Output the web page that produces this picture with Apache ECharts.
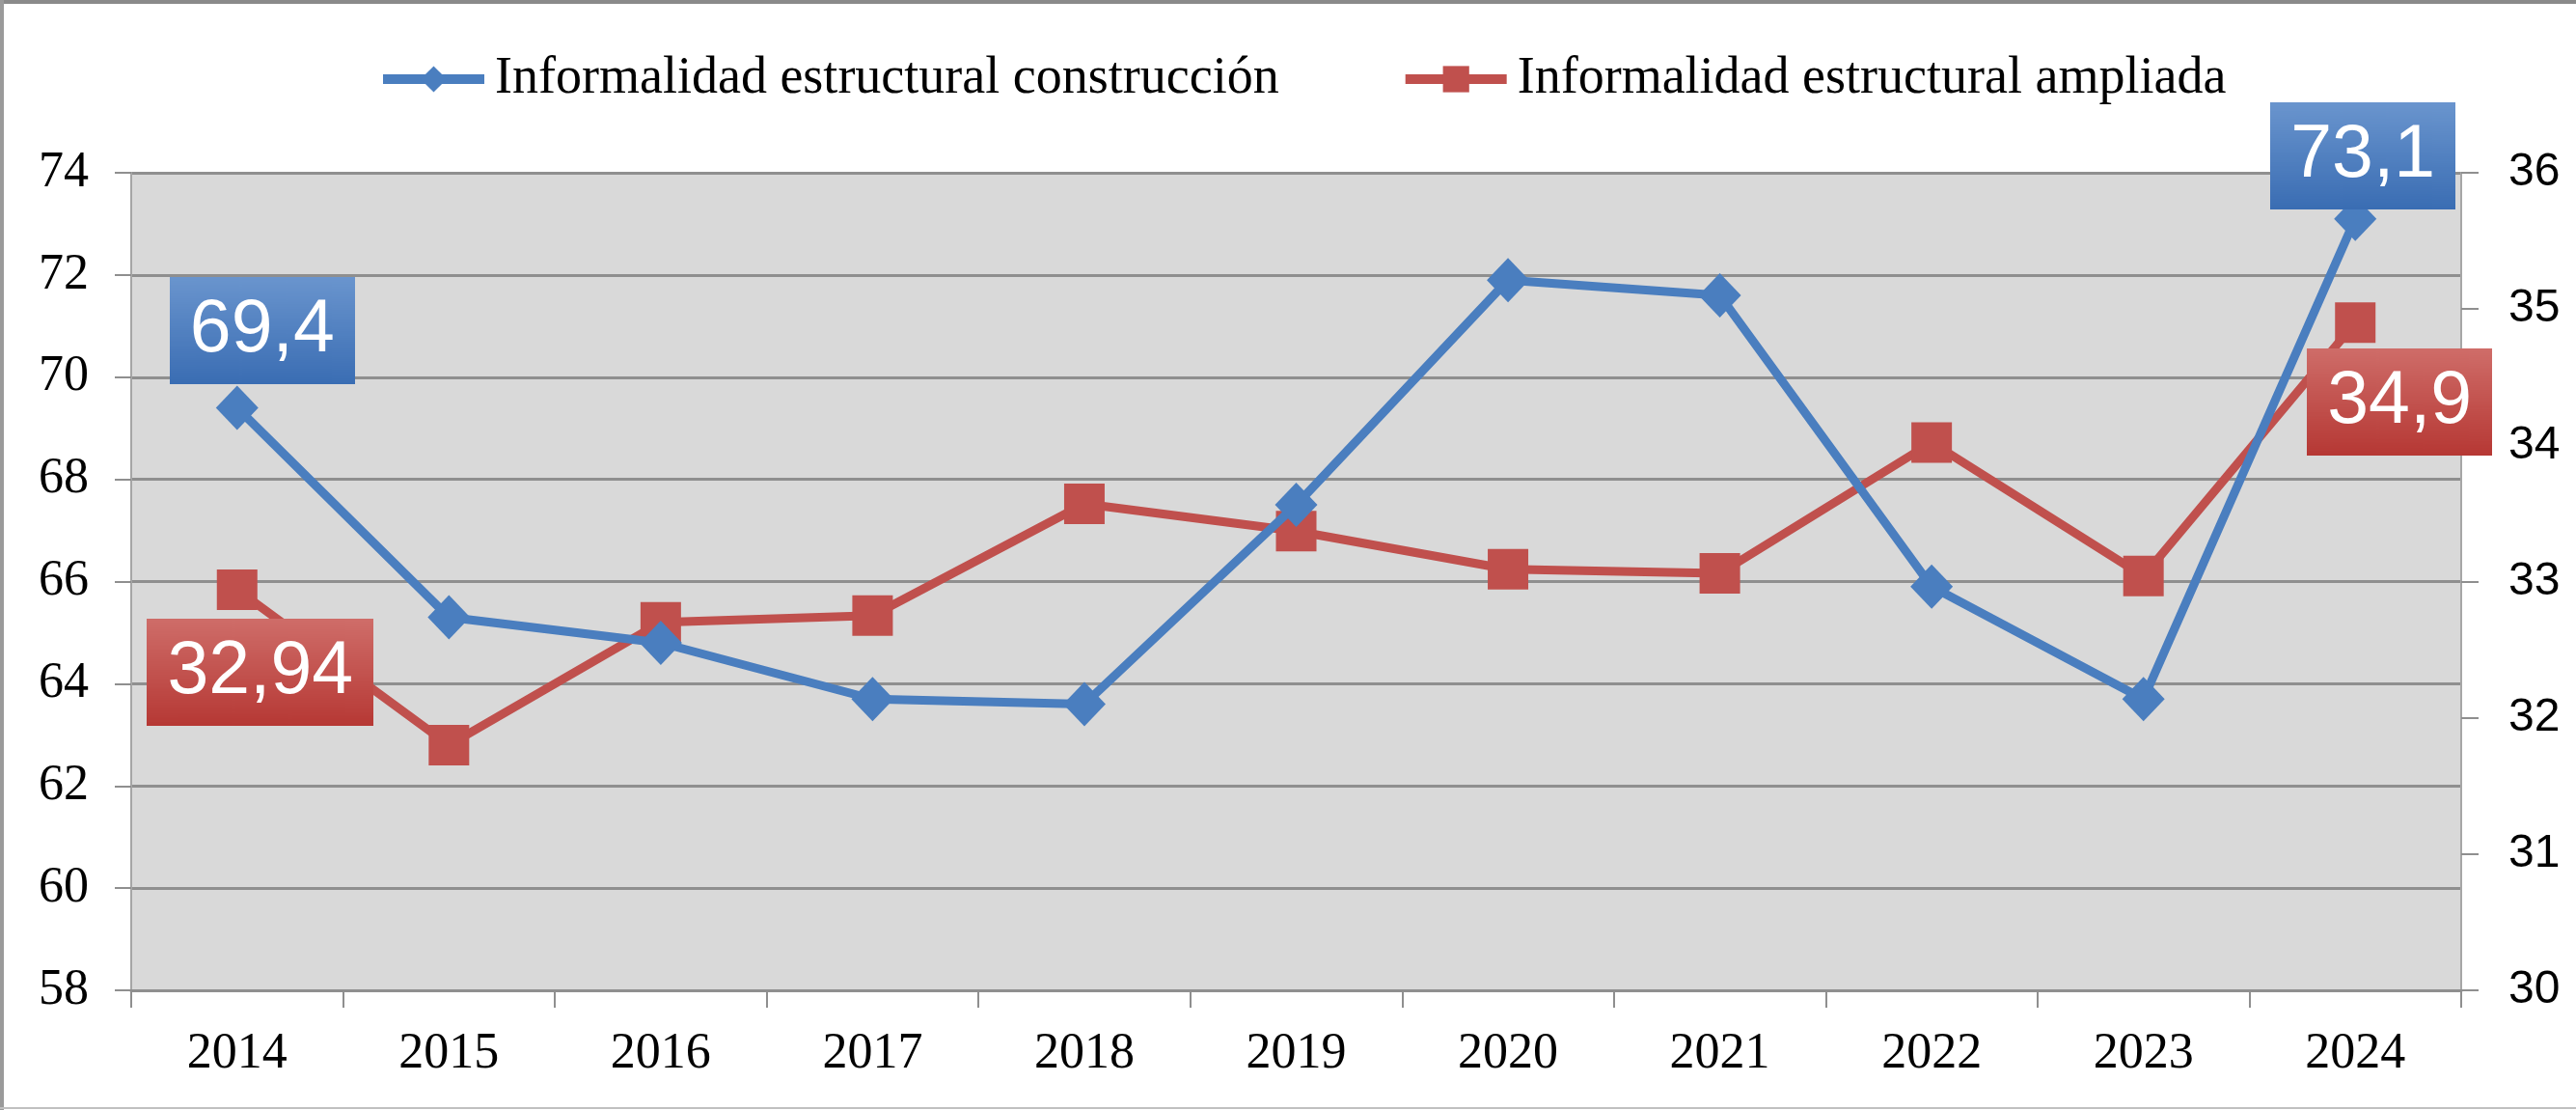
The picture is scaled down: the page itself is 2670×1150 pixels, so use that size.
<!DOCTYPE html>
<html>
<head>
<meta charset="utf-8">
<script src="https://cdn.jsdelivr.net/npm/echarts@6/dist/echarts.min.js"></script>
<style>
  html, body { margin: 0; padding: 0; background: #fff; }
  #chart { width: 2670px; height: 1150px; }
</style>
</head>
<body>
<div id="chart"></div>
<script>
const years = ['2014', '2015', '2016', '2017', '2018', '2019', '2020', '2021', '2022', '2023', '2024']
const construccion = [69.4, 65.3, 64.8, 63.7, 63.6, 67.5, 71.9, 71.6, 65.9, 63.7, 73.1]
const ampliada = [32.94, 31.8, 32.7, 32.75, 33.57, 33.37, 33.09, 33.06, 34.02, 33.04, 34.9]
const leftTicks = [58, 74, 2]
const rightTicks = [30, 36, 1]

// fondo degradado para las etiquetas de valor
const gradImg = (top, bottom) => {
  const c = document.createElement('canvas')
  c.width = 4
  c.height = 100
  const g = c.getContext('2d')
  const lg = g.createLinearGradient(0, 0, 0, 100)
  lg.addColorStop(0, top)
  lg.addColorStop(1, bottom)
  g.fillStyle = lg
  g.fillRect(0, 0, 4, 100)
  return c
}
const blueBg = gradImg('#6a95ce', '#3a6db3')
const redBg = gradImg('#cf6d69', '#b63834')

const fmt = v => String(v).replace('.', ',')

const valueLabel = (bg, offset) => ({
  show: true,
  position: 'inside',
  offset: offset,
  formatter: p => fmt(p.value),
  color: '#fff',
  fontFamily: '"Liberation Sans", Arial, sans-serif',
  fontSize: 77,
  lineHeight: 77,
  padding: [17, 21],
  backgroundColor: { image: bg }
})

// solo el primero y el último llevan etiqueta
const withLabels = (values, bg, firstOff, lastOff) => values.map((v, i) => {
  if (i === 0) return { value: v, label: valueLabel(bg, firstOff) }
  if (i === values.length - 1) return { value: v, label: valueLabel(bg, lastOff) }
  return v
})

const chart = echarts.init(document.getElementById('chart'))

const serif = '"Liberation Serif", "DejaVu Serif", serif'

const option = {
  backgroundColor: '#fff',
  animation: false,
  grid: {
    left: 136, right: 119, top: 179, bottom: 124,
    show: true, backgroundColor: '#d9d9d9', borderWidth: 0
  },
  legend: {
    left: 387, top: 50,
    itemWidth: 105, itemHeight: 34, itemGap: 126,
    lineStyle: { width: 10 },
    textStyle: { fontFamily: serif, fontSize: 54, lineHeight: 54, color: '#000', padding: [0, 0, 0, 6] },
    data: ['Informalidad estructural construcción', 'Informalidad estructural ampliada']
  },
  xAxis: {
    type: 'category',
    data: years,
    boundaryGap: true,
    axisLine: { lineStyle: { color: '#8f8f8f', width: 3 } },
    axisTick: { show: true, length: 18, lineStyle: { color: '#8f8f8f', width: 2 } },
    axisLabel: { fontFamily: serif, fontSize: 52, color: '#000', margin: 40 },
    splitLine: { show: false }
  },
  yAxis: [
    {
      type: 'value',
      min: leftTicks[0], max: leftTicks[1], interval: leftTicks[2],
      axisLine: { show: true, lineStyle: { color: '#a6a6a6', width: 2 } },
      axisTick: { show: true, length: 17, lineStyle: { color: '#8f8f8f', width: 2 } },
      axisLabel: { fontFamily: serif, fontSize: 52, color: '#000', margin: 44 },
      splitLine: { show: true, lineStyle: { color: '#8f8f8f', width: 3 } }
    },
    {
      type: 'value',
      min: rightTicks[0], max: rightTicks[1], interval: rightTicks[2],
      position: 'right',
      axisLine: { show: true, lineStyle: { color: '#a6a6a6', width: 2 } },
      axisTick: { show: true, length: 18, lineStyle: { color: '#8f8f8f', width: 2 } },
      axisLabel: { fontFamily: '"Liberation Sans", Arial, sans-serif', fontSize: 48, color: '#000', margin: 49 },
      splitLine: { show: false }
    }
  ],
  series: [
    {
      name: 'Informalidad estructural construcción',
      type: 'line',
      yAxisIndex: 0,
      symbol: 'diamond',
      symbolSize: [44, 46],
      itemStyle: { color: '#4a7ebf' },
      lineStyle: { color: '#4a7ebf', width: 9 },
      z: 3,
      data: withLabels(construccion, blueBg, [26, -80], [8, -65])
    },
    {
      name: 'Informalidad estructural ampliada',
      type: 'line',
      yAxisIndex: 1,
      symbol: 'rect',
      symbolSize: 42,
      itemStyle: { color: '#c0504d' },
      lineStyle: { color: '#c0504d', width: 9 },
      z: 2,
      data: withLabels(ampliada, redBg, [24, 86], [46, 82])
    }
  ],
  graphic: [
    { type: 'rect', shape: { x: 0, y: 0, width: 2670, height: 4 }, style: { fill: '#8a8a8a' }, silent: true },
    { type: 'rect', shape: { x: 0, y: 0, width: 4, height: 1150 }, style: { fill: '#9a9a9a' }, silent: true },
    { type: 'rect', shape: { x: 0, y: 1147, width: 2670, height: 2 }, style: { fill: '#c0c0c0' }, silent: true }
  ]
}

chart.setOption(option)
window.addEventListener('resize', () => chart.resize())
</script>
</body>
</html>
